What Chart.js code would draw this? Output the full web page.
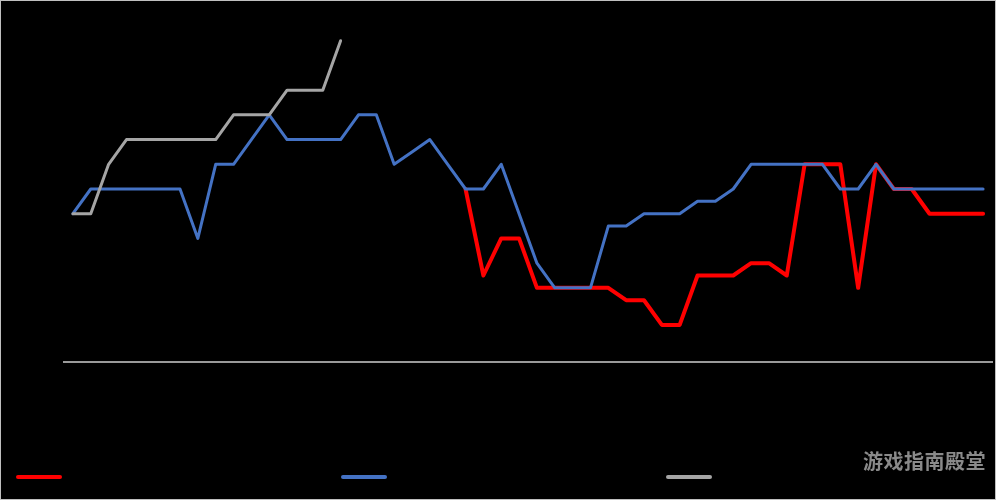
<!DOCTYPE html>
<html>
<head>
<meta charset="utf-8">
<script src="https://cdn.jsdelivr.net/npm/chart.js@4/dist/chart.umd.min.js"></script>
<style>
    html, body { margin: 0; padding: 0; background: #000; }
    #wrap {
        position: relative;
        width: 994px;
        height: 498px;
        border: 1px solid #bfbfbf;
        background: #000;
    }
    #chart { position: absolute; left: 0; top: 0; }
    .legend-item {
        position: absolute;
        top: 466px;
        display: flex;
        align-items: center;
        font: 14px "Noto Sans CJK SC", sans-serif;
        color: #000;
    }
    .legend-line { width: 46px; height: 4px; border-radius: 2px; margin-right: 6px; }
    #watermark {
        position: absolute;
        right: 9px;
        top: 445px;
        font: bold 20px "Noto Sans CJK SC", sans-serif;
        color: #8a8a8a;
        letter-spacing: 0.5px;
    }
</style>
</head>
<body>
<div id="wrap">
    <canvas id="chart" width="994" height="498"></canvas>
    <div id="legend"></div>
    <div id="watermark">游戏指南殿堂</div>
</div>
<script>
// Periods along the x axis (no tick labels shown in the original)
const periods = Array.from({ length: 52 }, (_, i) => String(i + 1));

const seriesNames = ['系列1', '系列2', '系列3'];
const seriesColors = ['#ff0000', '#4472c4', '#a5a5a5'];

const redValues = [
    null, null, null, null, null, null, null, null, null, null,
    null, null, null, null, null, null, null, null, null, null,
    null, null, 7, 3.5, 5, 5, 3, 3, 3, 3,
    3, 2.5, 2.5, 1.5, 1.5, 3.5, 3.5, 3.5, 4, 4,
    3.5, 8, 8, 8, 3, 8, 7, 7, 6, 6,
    6, 6
];

const blueValues = [
    6, 7, 7, 7, 7, 7, 7, 5, 8, 8,
    9, 10, 9, 9, 9, 9, 10, 10, 8, 8.5,
    9, 8, 7, 7, 8, 6, 4, 3, 3, 3,
    5.5, 5.5, 6, 6, 6, 6.5, 6.5, 7, 8, 8,
    8, 8, 8, 7, 7, 8, 7, 7, 7, 7,
    7, 7
];

const greyValues = [6, 6, 8, 9, 9, 9, 9, 9, 9, 10, 10, 10, 11, 11, 11, 13];

const yMin = 0;
const yMax = 14;

document.addEventListener('DOMContentLoaded', () => {
    buildLegend();
    drawChart();
});

function buildLegend() {
    const legend = document.getElementById('legend');
    const lefts = [15, 340, 665];
    seriesNames.forEach((name, i) => {
        const item = document.createElement('div');
        item.className = 'legend-item';
        item.style.left = lefts[i] + 'px';
        const line = document.createElement('div');
        line.className = 'legend-line';
        line.style.background = seriesColors[i];
        item.appendChild(line);
        const label = document.createElement('span');
        label.textContent = name;
        item.appendChild(label);
        legend.appendChild(item);
    });
}

function drawChart() {
    const ctx = document.getElementById('chart').getContext('2d');
    new Chart(ctx, {
        type: 'line',
        data: {
            labels: periods,
            datasets: [{
                label: seriesNames[0],
                data: redValues,
                borderColor: seriesColors[0],
                borderWidth: 4,
                order: 3
            }, {
                label: seriesNames[1],
                data: blueValues,
                borderColor: seriesColors[1],
                borderWidth: 3,
                order: 2
            }, {
                label: seriesNames[2],
                data: greyValues,
                borderColor: seriesColors[2],
                borderWidth: 3,
                order: 1
            }]
        },
        options: {
            responsive: false,
            animation: false,
            spanGaps: false,
            elements: {
                point: { radius: 0, hoverRadius: 0 },
                line: { tension: 0, borderCapStyle: 'round', borderJoinStyle: 'round' }
            },
            layout: {
                padding: { left: 63, right: 3, top: 15, bottom: 129 }
            },
            plugins: {
                legend: { display: false },
                tooltip: { enabled: false }
            },
            scales: {
                x: {
                    offset: true,
                    ticks: { display: false },
                    grid: { display: false },
                    border: { display: true, color: '#9a9a9a', width: 2 }
                },
                y: {
                    min: yMin,
                    max: yMax,
                    display: false
                }
            }
        }
    });
}
</script>
</body>
</html>
